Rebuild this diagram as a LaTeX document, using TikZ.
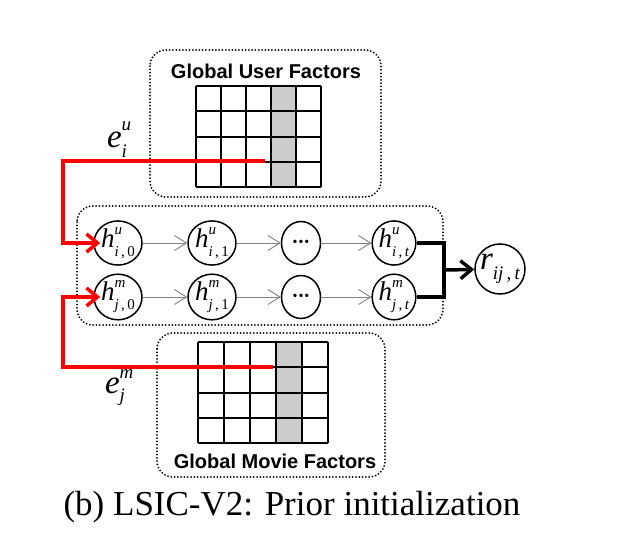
\documentclass[tikz,border=0pt]{standalone}
\usepackage{fontspec}
\setmainfont{Liberation Serif}
\newfontfamily\sansb{Liberation Sans}
\usetikzlibrary{arrows.meta,shapes.geometric}
% #1 base size, #2 base, #3 sup, #4 sub, #5 script size, #6 raise, #7 lower
\newcommand\slab[7]{{\fontsize{#1}{#1}\selectfont\itshape #2}{\fontsize{#5}{#5}\selectfont\rlap{\raisebox{#6}{#3}}\raisebox{-#7}{#4}}}
\newcommand\hlab[2]{\slab{27}{h}{\itshape #1}{#2}{15}{13pt}{9pt}}
\newcommand\threedots{{\fontsize{14}{14}\selectfont\textbullet\hspace{1pt}\textbullet\hspace{1pt}\textbullet}}
\begin{document}
\begin{tikzpicture}[x=1pt,y=-1pt,
  dotbox/.style={draw, line width=2pt, dash pattern=on 0pt off 3.3pt, line cap=round, rounded corners=16pt},
  state/.style={draw, ellipse, line width=1.5pt, minimum width=39pt, minimum height=43pt, inner sep=0pt},
  garrow/.style={draw=gray, line width=0.9pt, -{Straight Barb[length=12pt,width=15pt,line width=0.9pt]}},
  rarrow/.style={draw=red, line width=3.5pt, -{Straight Barb[length=11pt,width=18pt,line width=3.5pt]}},
  barrow/.style={draw=black, line width=3.5pt, -{Straight Barb[length=11pt,width=18pt,line width=3.5pt]}},
  bline/.style={draw=black, line width=3.5pt},
  gridline/.style={line width=2pt},
  title/.style={font=\sansb\bfseries\fontsize{20}{20}\selectfont}
]
\useasboundingbox (0,0) rectangle (625,557);

% boxes
\draw[dotbox] (150,50) rectangle (381,197);
\draw[dotbox] (77,206) rectangle (443,325);
\draw[dotbox] (157,333) rectangle (385,477);

% user grid
\fill[gray!40] (271,86) rectangle (296,187);
\foreach \i in {0,...,5} \draw[gridline] (196+25*\i,86) -- (196+25*\i,187);
\foreach \j in {0,...,4} \draw[gridline] (196,86+25.25*\j) -- (321,86+25.25*\j);
\node[title] (ut) at (266,71) {Global User Factors};

% movie grid
\fill[gray!40] (276,342) rectangle (302,443);
\foreach \i in {0,...,5} \draw[gridline] (198+26*\i,342) -- (198+26*\i,443);
\foreach \j in {0,...,4} \draw[gridline] (198,342+25.25*\j) -- (328,342+25.25*\j);
\node[title] (mt) at (275,461) {Global Movie Factors};

% states
\node[state] (hi0) at (118,243) {\hlab{u}{\textit{i}\,,\,0}};
\node[state] (hi1) at (212,243) {\hlab{u}{\textit{i}\,,\,1}};
\node[state] (di)  at (301,243) {\threedots};
\node[state] (hit) at (394,243) {\hlab{u}{\textit{i}\,,\,\textit{t}}};
\node[state] (hj0) at (118,297) {\hlab{m}{\textit{j}\,,\,0}};
\node[state] (hj1) at (212,297) {\hlab{m}{\textit{j}\,,\,1}};
\node[state] (dj)  at (301,297) {\threedots};
\node[state] (hjt) at (394,297) {\hlab{m}{\textit{j}\,,\,\textit{t}}};
\node[draw, circle, line width=1.5pt, minimum size=50pt, inner sep=0pt] (r) at (500,269) {\slab{33}{r}{}{\itshape ij\,,\,t}{19}{0pt}{10pt}};

\draw[garrow] (hi0) -- (hi1);
\draw[garrow] (hi1) -- (di);
\draw[garrow] (di) -- (hit);
\draw[garrow] (hj0) -- (hj1);
\draw[garrow] (hj1) -- (dj);
\draw[garrow] (dj) -- (hjt);

\coordinate (jn) at (444,270);
\draw[bline] (hit.east) -| (jn);
\draw[bline] (hjt.east) -| (jn);
\draw[barrow] (jn) -- (r);

% red connectors
\coordinate (ue) at (265,161);
\coordinate (me) at (273,367);
\draw[rarrow] (ue) -- ++(-202,0) |- ([xshift=7pt]hi0.west);
\draw[rarrow] (me) -- ++(-210,0) |- ([xshift=7pt]hj0.west);

\node (eu) at (117,140) {\slab{33}{e}{\itshape u}{\itshape i}{19}{17pt}{10pt}};
\node (em) at (115,388) {\slab{33}{e}{\itshape m}{\itshape j}{19}{15pt}{8pt}};

\node[font=\fontsize{35}{35}\selectfont, anchor=base] (cap) at (292,515) {(b) LSIC-V2: Prior initialization};
\end{tikzpicture}
\end{document}
